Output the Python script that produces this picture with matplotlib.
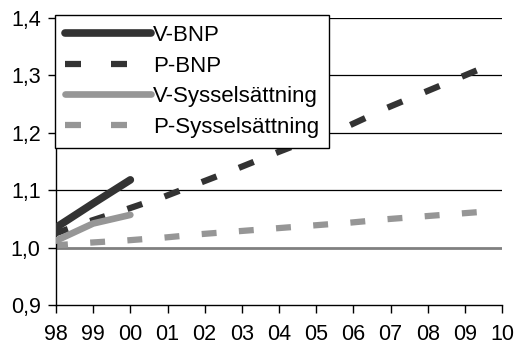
import numpy as np
import matplotlib
matplotlib.use("Agg")
import matplotlib.pyplot as plt
from matplotlib.lines import Line2D
from matplotlib.ticker import FuncFormatter

plt.rcParams['font.family'] = ['Liberation Sans', 'DejaVu Sans']

years = ['98', '99', '00', '01', '02', '03', '04', '05', '06', '07', '08', '09', '10']
v_bnp = [1.035, 1.077, 1.118]
p_bnp = [1.025, 1.048, 1.069, 1.091, 1.116, 1.141, 1.167, 1.192, 1.216, 1.246, 1.273, 1.300]
v_syss = [1.012, 1.042, 1.057]
p_syss = [1.004, 1.009, 1.013, 1.018, 1.024, 1.029, 1.034, 1.039, 1.044, 1.050, 1.055, 1.060]
labels = ['V-BNP', 'P-BNP', 'V-Sysselsättning', 'P-Sysselsättning']

dark = '#333333'
grey = '#969696'

fig = plt.figure(figsize=(5.15, 3.47), dpi=100)
ax = fig.add_axes([56 / 515, 42 / 347, 446 / 515, 287 / 347])


def dashed(ax, vals, color, lw, z):
    # one short dash per year, starting just before the point and running along the segment
    vals = np.asarray(vals)
    n = len(vals)
    for i in range(n):
        slope = vals[i + 1] - vals[i] if i + 1 < n else vals[i] - vals[i - 1]
        x0, x1 = i - 0.08, i + 0.32
        ax.plot([x0, x1], [vals[i] + slope * (x0 - i), vals[i] + slope * (x1 - i)],
                color=color, lw=lw, solid_capstyle='butt', zorder=z)


for y in [1.1, 1.2, 1.3, 1.4]:
    ax.axhline(y, color='black', lw=0.9, zorder=1)
ax.axhline(1.0, color='#808080', lw=2, zorder=1)

ax.plot(np.arange(len(v_bnp)), v_bnp, color=dark, lw=5.5, solid_capstyle='round', zorder=3)
dashed(ax, p_bnp, dark, 4.5, 4)
ax.plot(np.arange(len(v_syss)), v_syss, color=grey, lw=4.8, solid_capstyle='round', zorder=5)
dashed(ax, p_syss, grey, 4.5, 2.5)

ax.set_xlim(0, len(years) - 1)
ax.set_ylim(0.9, 1.4)
ax.set_xticks(np.arange(len(years)))
ax.set_xticklabels(years)
ax.set_yticks([0.9, 1.0, 1.1, 1.2, 1.3, 1.4])
ax.yaxis.set_major_formatter(FuncFormatter(lambda v, p: f'{v:.1f}'.replace('.', ',')))
ax.tick_params(labelsize=15.5, length=6, width=1, direction='out', color='black')
ax.tick_params(axis='x', pad=8)
ax.tick_params(axis='y', pad=5)
for s in ['top', 'right']:
    ax.spines[s].set_visible(False)
for s in ['left', 'bottom']:
    ax.spines[s].set_linewidth(1)
    ax.spines[s].set_color('black')

handles = [
    Line2D([], [], color=dark, lw=5.5, solid_capstyle='round'),
    Line2D([], [], color=dark, lw=4.5, linestyle=(0, (2.56, 4.8)), dash_capstyle='butt'),
    Line2D([], [], color=grey, lw=4.8, solid_capstyle='round'),
    Line2D([], [], color=grey, lw=4.5, linestyle=(0, (2.56, 4.8)), dash_capstyle='butt'),
]
leg = fig.legend(handles, labels, loc='upper left', bbox_to_anchor=(55 / 515, 1 - 15 / 347),
                 fontsize=16, handlelength=3.85, handletextpad=0.1, labelspacing=0.43,
                 borderpad=0.45, borderaxespad=0, fancybox=False, framealpha=1,
                 edgecolor='black')
leg.get_frame().set_linewidth(1)
leg.set_zorder(10)

fig.savefig('out.png', dpi=100)
